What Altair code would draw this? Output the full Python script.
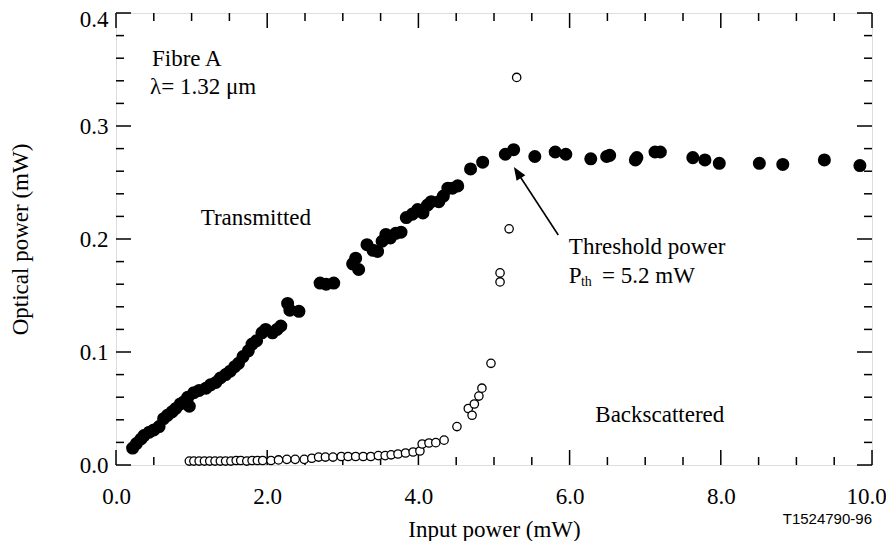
import altair as alt
import pandas as pd

# ---------------- data ----------------
trans_x = [0.22, 0.27, 0.33, 0.37, 0.44, 0.50, 0.57, 0.63, 0.68, 0.74, 0.79, 0.85, 0.90, 0.95, 0.97,
           1.03, 1.10, 1.19, 1.25, 1.32, 1.38, 1.45, 1.51, 1.57, 1.62, 1.68, 1.75, 1.80, 1.86, 1.93,
           1.98, 2.07, 2.13, 2.18, 2.27, 2.30, 2.42, 2.70, 2.78, 2.88, 3.13, 3.17, 3.21, 3.32, 3.40,
           3.46, 3.52, 3.57, 3.63, 3.70, 3.77, 3.84, 3.92, 3.99, 4.06, 4.12, 4.17, 4.27, 4.33, 4.39,
           4.45, 4.52, 4.69, 4.85, 5.15, 5.26, 5.54, 5.81, 5.95, 6.28, 6.49, 6.53, 6.87, 6.89, 7.13,
           7.20, 7.63, 7.79, 7.98, 8.51, 8.82, 9.37, 9.84]
trans_y = [0.015, 0.019, 0.023, 0.026, 0.029, 0.031, 0.034, 0.041, 0.044, 0.047, 0.050, 0.054, 0.056, 0.060, 0.052,
           0.064, 0.066, 0.068, 0.071, 0.073, 0.077, 0.080, 0.083, 0.087, 0.090, 0.096, 0.101, 0.107, 0.110, 0.117,
           0.120, 0.117, 0.120, 0.123, 0.143, 0.137, 0.136, 0.161, 0.160, 0.161, 0.178, 0.183, 0.173, 0.195, 0.190,
           0.189, 0.198, 0.204, 0.201, 0.205, 0.206, 0.219, 0.222, 0.226, 0.223, 0.230, 0.233, 0.233, 0.238, 0.245,
           0.245, 0.247, 0.262, 0.268, 0.275, 0.279, 0.273, 0.277, 0.275, 0.271, 0.273, 0.274, 0.270, 0.272, 0.277,
           0.277, 0.272, 0.270, 0.267, 0.267, 0.266, 0.270, 0.265]

back_x = [0.97, 1.03, 1.10, 1.17, 1.24, 1.31, 1.38, 1.45, 1.52, 1.59, 1.65, 1.73, 1.80, 1.87, 1.94,
          2.05, 2.15, 2.26, 2.37, 2.49, 2.59, 2.68, 2.77, 2.87, 2.98, 3.07, 3.17, 3.27, 3.37, 3.47,
          3.56, 3.64, 3.73, 3.83, 3.93, 4.02, 4.05, 4.14, 4.23, 4.34, 4.51, 4.66, 4.71, 4.74, 4.80,
          4.84, 4.96, 5.08, 5.08, 5.20, 5.30]
back_y = [0.0035, 0.0035, 0.0035, 0.0035, 0.0035, 0.0035, 0.0035, 0.0035, 0.0035, 0.004, 0.004, 0.0035, 0.004, 0.004, 0.004,
          0.004, 0.0045, 0.005, 0.005, 0.005, 0.006, 0.007, 0.007, 0.007, 0.0075, 0.0075, 0.0075, 0.0075, 0.0075, 0.0083,
          0.0083, 0.009, 0.0097, 0.0106, 0.0115, 0.0124, 0.0186, 0.0195, 0.0198, 0.022, 0.034, 0.050, 0.044, 0.054, 0.061,
          0.068, 0.090, 0.162, 0.170, 0.209, 0.343]

x_major = [0, 2, 4, 6, 8, 10]
x_minor = [0.5, 1, 1.5, 2.5, 3, 3.5, 4.5, 5, 5.5, 6.5, 7, 7.5, 8.5, 9, 9.5]
y_major = [0.0, 0.1, 0.2, 0.3, 0.4]
y_minor = [0.02, 0.04, 0.06, 0.08, 0.12, 0.14, 0.16, 0.18, 0.22, 0.24, 0.26, 0.28, 0.32, 0.34, 0.36, 0.38]

label_text = ["Fibre A", "λ= 1.32 μm", "Transmitted", "Threshold power", "P", "= 5.2 mW", "Backscattered"]
label_x = [0.476, 0.45, 1.12, 5.99, 5.99, 6.43, 6.34]
label_y = [0.353, 0.328, 0.2124, 0.1867, 0.161, 0.161, 0.038]

sub_text = ["th"]
sub_x = [6.15]
sub_y = [0.158]

arrow_tail_x, arrow_tail_y = [5.85], [0.2035]
arrow_head_x, arrow_head_y = [5.31], [0.2588]

# ---------------- chart ----------------
W, H = 756, 452
SERIF = "Liberation Serif"
FS = 23

xs = alt.Scale(domain=[0, 10], nice=False, zero=False)
ys = alt.Scale(domain=[0, 0.4], nice=False, zero=False)

X = alt.X("x:Q", scale=xs, axis=alt.Axis(
    values=x_major, format=".1f", title="Input power (mW)", ticks=False, tickSize=0,
    domain=False, grid=False, labelFont=SERIF, labelFontSize=FS, labelColor="black",
    labelPadding=20, labelFlush=False, labelOverlap=False,
    labelOffset={"condition": {"test": "datum.value > 9.5", "value": -6}, "value": 0},
    titleFont=SERIF, titleFontSize=FS, titleFontWeight="normal", titleColor="black",
    titleX=W / 2, titleY=71, titleAlign="center", titleBaseline="alphabetic"))
Y = alt.Y("y:Q", scale=ys, axis=alt.Axis(
    values=y_major, format=".1f", title="Optical power (mW)", ticks=False, tickSize=0,
    domain=False, grid=False, labelFont=SERIF, labelFontSize=FS, labelColor="black",
    labelPadding=8, labelFlush=False, labelOverlap=False,
    labelOffset={"condition": {"test": "datum.value > 0.35", "value": 6}, "value": 0},
    titleFont=SERIF, titleFontSize=FS, titleFontWeight="normal", titleColor="black",
    titleX=-89, titleY=H / 2, titleAngle=270, titleAlign="center", titleBaseline="alphabetic"))

trans = pd.DataFrame({"x": trans_x, "y": trans_y})
back = pd.DataFrame({"x": back_x, "y": back_y})

filled = alt.Chart(trans).mark_circle(color="black", opacity=1, size=170).encode(x=X, y=Y)
opened = alt.Chart(back).mark_point(shape="circle", filled=False, fill="white", fillOpacity=1,
                                    stroke="black", strokeWidth=1.3, opacity=1, size=70).encode(x=X, y=Y)

MAJ, MIN = 15, 8
xmaj = pd.DataFrame({"x": x_major})
xmin = pd.DataFrame({"x": x_minor})
ymaj = pd.DataFrame({"y": y_major})
ymin = pd.DataFrame({"y": y_minor})
tick_style = dict(color="black", strokeWidth=1.5)

ticks = [
    alt.Chart(xmaj).mark_rule(**tick_style).encode(x=X, y=alt.value(H), y2=alt.value(H - MAJ)),
    alt.Chart(xmaj).mark_rule(**tick_style).encode(x=X, y=alt.value(0), y2=alt.value(MAJ)),
    alt.Chart(xmin).mark_rule(**tick_style).encode(x=X, y=alt.value(H), y2=alt.value(H - MIN)),
    alt.Chart(xmin).mark_rule(**tick_style).encode(x=X, y=alt.value(0), y2=alt.value(MIN)),
    alt.Chart(ymaj).mark_rule(**tick_style).encode(y=Y, x=alt.value(0), x2=alt.value(MAJ)),
    alt.Chart(ymaj).mark_rule(**tick_style).encode(y=Y, x=alt.value(W), x2=alt.value(W - MAJ)),
    alt.Chart(ymin).mark_rule(**tick_style).encode(y=Y, x=alt.value(0), x2=alt.value(MIN)),
    alt.Chart(ymin).mark_rule(**tick_style).encode(y=Y, x=alt.value(W), x2=alt.value(W - MIN)),
]

labels = alt.Chart(pd.DataFrame({"x": label_x, "y": label_y, "t": label_text})).mark_text(
    align="left", baseline="alphabetic", font=SERIF, fontSize=FS, color="black"
).encode(x=X, y=Y, text="t:N")
sub = alt.Chart(pd.DataFrame({"x": sub_x, "y": sub_y, "t": sub_text})).mark_text(
    align="left", baseline="alphabetic", font=SERIF, fontSize=14, color="black"
).encode(x=X, y=Y, text="t:N")

arrow_line = alt.Chart(pd.DataFrame({"x": arrow_tail_x, "y": arrow_tail_y,
                                     "x2": arrow_head_x, "y2": arrow_head_y})).mark_rule(
    color="black", strokeWidth=1.6).encode(x=X, y=Y, x2="x2:Q", y2="y2:Q")
arrow_head = alt.Chart(pd.DataFrame({"x": arrow_head_x, "y": arrow_head_y})).mark_point(
    shape="M0,-1L0.8,1L-0.8,1Z", filled=True, color="black", opacity=1, size=169, angle=327
).encode(x=X, y=Y)

fig_id = alt.Chart(pd.DataFrame({"t": ["T1524790-96"]})).mark_text(
    align="right", baseline="alphabetic", font="Liberation Sans", fontSize=15, color="black"
).encode(x=alt.value(W), y=alt.value(511), text="t:N")

chart = alt.layer(filled, *ticks, opened, labels, sub, arrow_line, arrow_head, fig_id).properties(
    width=W, height=H,
    autosize=alt.AutoSizeParams(type="none"),
    padding={"left": 108, "top": 5, "right": 14, "bottom": 76},
).configure_view(stroke="black", strokeWidth=2).configure(background="white")

chart.save("out.html", embed_options={"renderer": "svg", "actions": False})
